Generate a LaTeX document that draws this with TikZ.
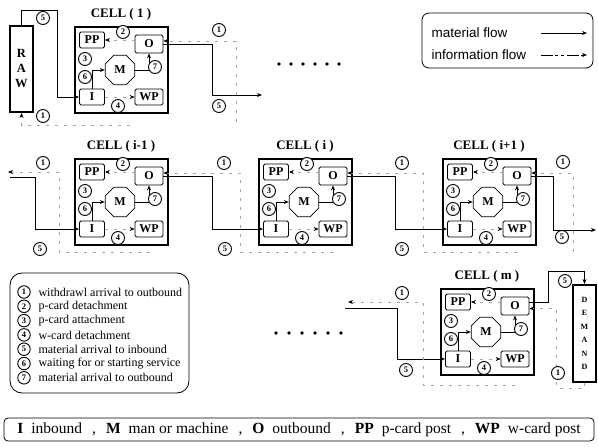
\documentclass[tikz,border=0pt]{standalone}
\usepackage{fontspec}
\setmainfont{Liberation Serif}
\newfontfamily\flowfont{Liberation Sans}
\usetikzlibrary{positioning,arrows.meta,shapes.geometric,calc}

\begin{document}
\begin{tikzpicture}[x=1pt,y=-1pt,>={Stealth[length=5pt,width=4pt]},
   every node/.style={font=\bfseries\fontsize{12}{14}\selectfont},
   cellbox/.style={draw,line width=2pt,minimum width=93pt,minimum height=86pt,
     inner sep=0pt,anchor=north west},
   post/.style={draw,rounded corners=1.5pt,line width=0.8pt,minimum width=25pt,
     minimum height=16pt,inner sep=0pt},
   mach/.style={draw,line width=0.8pt,regular polygon,regular polygon sides=8,
     minimum size=32pt,inner sep=0pt},
   num/.style={draw,circle,line width=0.9pt,fill=white,minimum size=13pt,
     inner sep=0pt,font=\bfseries\fontsize{8.5}{9}\selectfont},
   mat/.style={->,line width=0.8pt},
   inf/.style={-{Stealth[length=5pt,width=4pt,black]},line width=0.6pt,black!35,
     dash pattern=on 3pt off 6pt}]
  \useasboundingbox (0,0) rectangle (598,447);

  % the cells
  \foreach \cn/\x/\y/\lab in {a/74/26/1, b/74/158/i-1, c/258/158/i,
      d/442/158/i+1, e/440/288/m}{
    \begin{scope}[shift={(\x,\y)}]
      \node[cellbox] (\cn) at (0,0) {};
      \node[font=\bfseries\fontsize{13}{15}\selectfont] (\cn-t) at (47,-12) {CELL ( \lab\ )};
      \node[post] (\cn-PP) at (18,14) {PP};
      \node[post,minimum width=28pt,minimum height=18pt] (\cn-O) at (75,18) {O};
      \node[mach] (\cn-M) at (46,44) {M};
      \node[post] (\cn-I) at (18,71) {I};
      \node[post,minimum width=28pt] (\cn-WP) at (75,71) {WP};
      \draw[mat] (\cn-I.north) |- (\cn-M.west);
      \draw[mat] (\cn-M.east) -| (\cn-O.south);
      \draw[inf] (\cn-O.west |- \cn-PP.east) -- (\cn-PP.east);
      \draw[inf] (\cn-I.east) -- (\cn-WP.west);
      \node[num] (\cn-n2) at (49,6) {2};
      \node[num] (\cn-n3) at (11,33) {3};
      \node[num] (\cn-n6) at (11,51) {6};
      \node[num] (\cn-n7) at (81,41) {7};
      \node[num] (\cn-n4) at (44,80) {4};
    \end{scope}
  }

  % source and sink
  \node[draw,line width=2pt,minimum width=23pt,minimum height=86pt,inner sep=0pt,
    align=center,font=\bfseries\fontsize{12.5}{15}\selectfont] (raw) at (21.5,69) {R\\A\\W};
  \node[draw,line width=2pt,minimum width=23pt,minimum height=97pt,inner sep=0pt,
    align=center,font=\bfseries\fontsize{8}{13.5}\selectfont] (dem) at (584.5,333.5)
    {D\\E\\M\\A\\N\\D};

  % top row
  \coordinate (r1) at (57,10);
  \draw[mat] (raw.north) |- (r1) |- (a-I.west);
  \coordinate (ra) at (130,125);
  \draw[inf] (ra) -| (raw.south);
  \node[num] (raw-n5) at (43,18) {5};
  \node[num] (raw-n1) at (43,116) {1};
  \coordinate (a-out) at (262,95);
  \draw[mat] (a-O.east) -- ++(49,0) |- (a-out);
  \coordinate (a-back) at (236,122);
  \draw[inf] (a-back) |- (a-O.12);
  \node[num] (a-n1) at (219,30) {1};
  \node[num] (a-n5) at (219,106) {5};
  \foreach \i in {0,...,5} \fill (279+12*\i,64) circle (1.8pt);

  % middle row
  \coordinate (b-src) at (10,177);
  \draw[mat] (b-src) -- ++(25,0) |- (b-I.west);
  \coordinate (b-dst) at (8,172);
  \coordinate (b-back) at (150,252);
  \draw[inf] (b-back) -- ++(-91,0) |- (b-dst);
  \node[num] (b-n1) at (43,163) {1};
  \node[num] (b-n5) at (40,249) {5};

  \draw[mat] (b-O.east) -- ++(49,0) |- (c-I.west);
  \coordinate (c-back) at (333,252);
  \draw[inf] (c-back) -- ++(-93,0) |- (b-O.12);
  \node[num] (c-n1) at (224,163) {1};
  \node[num] (c-n5) at (225,249) {5};

  \draw[mat] (c-O.east) -- ++(48,0) |- (d-I.west);
  \coordinate (d-back) at (517,252);
  \draw[inf] (d-back) -- ++(-94,0) |- (c-O.12);
  \node[num] (d-n1) at (402,163) {1};
  \node[num] (d-n5) at (402,249) {5};

  \coordinate (d-out) at (596,230);
  \draw[mat] (d-O.east) -- ++(22,0) |- (d-out);
  \coordinate (d-next) at (573,252);
  \draw[inf] (d-next) |- (d-O.12);
  \node[num] (d-n1b) at (563,162) {1};
  \node[num] (d-n5b) at (562,237) {5};

  % bottom row
  \foreach \i in {0,...,5} \fill (276+13*\i,333) circle (1.8pt);
  \coordinate (e-src) at (345,308);
  \draw[mat] (e-src) -- ++(52,0) |- (e-I.west);
  \coordinate (e-dst) at (348,302);
  \coordinate (e-back) at (515,385);
  \draw[inf] (e-back) -- ++(-92,0) |- (e-dst);
  \node[num] (e-n1) at (402,293) {1};
  \node[num] (e-n5) at (406,370) {5};
  \draw[mat] (e-O.15) -- ++(19,0) -- ++(0,-31) -| (dem.north);
  \draw[inf] (dem.south) -- ++(0,5) -| ($(e-O.-10)+(27,0)$) -- (e-O.-10);
  \node[num] (dem-n5) at (565,281) {5};
  \node[num] (dem-n1) at (558,373) {1};

  % flow legend
  \node[draw,rounded corners=7pt,line width=0.8pt,minimum width=171pt,
    minimum height=55pt] (flowkey) at (507.5,40.5) {};
  \node[anchor=west,font=\flowfont\fontsize{13.5}{15}\selectfont] (matl) at (428,33) {material flow};
  \node[anchor=west,font=\flowfont\fontsize{13.5}{15}\selectfont] (infl) at (428,55) {information flow};
  \coordinate (m1) at (541,33);
  \coordinate (m2) at (587,33);
  \draw[mat] (m1) -- (m2);
  \coordinate (i1) at (541,55);
  \coordinate (i2) at (587,55);
  \draw[inf,black,dash pattern=on 12pt off 2pt on 3pt off 3pt on 3pt off 3pt] (i1) -- (i2);

  % event legend
  \node[draw,rounded corners=12pt,line width=0.8pt,minimum width=179pt,
    minimum height=120pt] (evkey) at (99.5,333) {};
  \foreach \n/\txt in {1/withdrawl arrival to outbound, 2/p-card detachment,
      3/p-card attachment, 4/w-card detachment, 5/material arrival to inbound,
      6/waiting for or starting service, 7/material arrival to outbound}{
    \node[num,minimum size=12.5pt] (k\n) at (24,{292+14.3*(\n-1)}) {\n};
    \node[anchor=west,font=\fontsize{12}{13}\selectfont] (k\n-txt)
      at (35,{292+14.3*(\n-1)}) {\txt};
  }

  % abbreviations
  \node[draw,rounded corners=4pt,line width=0.8pt,minimum width=590pt,
    minimum height=23pt,font=\fontsize{15.5}{17}\selectfont] (abbr) at (299,429.5)
    {\textbf{I}\hspace{8pt}inbound\hspace{10pt},\hspace{10pt}\textbf{M}\hspace{8pt}man or machine\hspace{10pt},\hspace{10pt}\textbf{O}\hspace{8pt}outbound\hspace{10pt},\hspace{10pt}\textbf{PP}\hspace{8pt}p-card post\hspace{10pt},\hspace{10pt}\textbf{WP}\hspace{8pt}w-card post};
\end{tikzpicture}
\end{document}
